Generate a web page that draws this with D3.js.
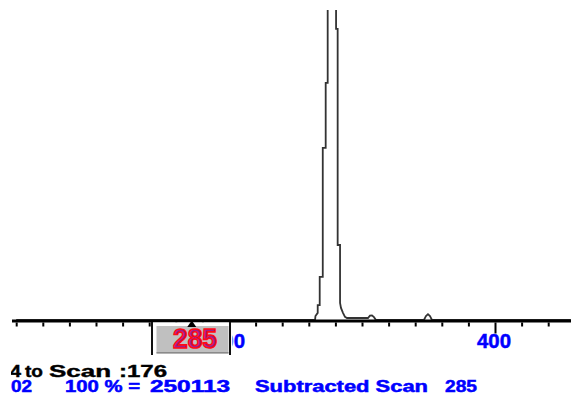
<!DOCTYPE html>
<html>
<head>
<meta charset="utf-8">
<script src="https://cdn.jsdelivr.net/npm/d3@7"></script>
<style>
  html, body { margin: 0; padding: 0; background: #fff; }
  svg { display: block; }
  text { font-family: "Liberation Sans", Arial, sans-serif; font-weight: bold; }
</style>
</head>
<body>
<svg id="chart" width="571" height="398"></svg>
<script>
// ---- data (x in axis units, intensity in % of display range; peak runs off-scale) ----
const massValues = [40, 262.4, 264.7, 265.0, 266.7, 266.7, 268.2, 268.2, 270.5, 270.5, 272.7, 272.7, 274.2, 274.2,
                    280.5, 280.5, 281.7, 281.7, 283.5, 283.5, 284.2, 285.7, 287.2, 288.7, 302.3,
                    304.5, 306.0, 307.5, 309.0, 310.5, 346.6, 348.1, 349.6, 351.1, 352.6, 457];
const intensityValues = [0, 0, 0, 1.3, 2.3, 4.8, 4.8, 13.9, 13.9, 55.5, 55.5, 76.5, 76.5, 240,
                         240, 93.9, 93.9, 24.2, 24.2, 5.5, 3.9, 2.3, 1.0, 0.65, 0.65,
                         0.65, 1.4, 1.5, 0.9, 0, 0, 1.3, 1.9, 1.3, 0, 0];
const minorTicks = [40, 60, 80, 100, 120, 140, 160, 180, 220, 240, 260, 280, 300, 320, 340, 360, 380, 420, 440];
const majorTicks = [200, 400];
const tickLabels = ["200", "400"];
const scanMarker = 172;
const scanLabel = "285";
const line1Parts = ["4", "to", "Scan", ":176"];
const line2Parts = ["02", "100 % =", "250113", "Subtracted Scan", "285"];

const svg = d3.select("#chart");
svg.append("rect").attr("width", 571).attr("height", 398).attr("fill", "#fff");

const x = d3.scaleLinear().domain([200, 400]).range([229, 495]);
const y = d3.scaleLinear().domain([0, 100]).range([320, 10]);

const defs = svg.append("defs");
defs.append("clipPath").attr("id", "plotClip")
  .append("rect").attr("x", 12).attr("y", 10).attr("width", 559).attr("height", 312);
defs.append("clipPath").attr("id", "textClip")
  .append("rect").attr("x", 11).attr("y", 355).attr("width", 560).attr("height", 43);
defs.append("clipPath").attr("id", "labelClip")
  .append("rect").attr("x", 232.5).attr("y", 318).attr("width", 340).attr("height", 37);

// spectrum trace
const pts = massValues.map((m, i) => [m, intensityValues[i]]);
svg.append("g").attr("clip-path", "url(#plotClip)")
  .append("path")
  .datum(pts)
  .attr("d", d3.line().x(d => x(d[0])).y(d => y(d[1])))
  .attr("fill", "none")
  .attr("stroke", "#333")
  .attr("stroke-width", 1.8)
  .attr("stroke-linejoin", "miter");

// axis line
svg.append("rect").attr("x", 12).attr("y", 319.5).attr("width", 559).attr("height", 3).attr("fill", "#000");

// minor ticks
const gMinor = svg.append("g").attr("transform", "translate(0,322.5)")
  .call(d3.axisBottom(x).tickValues(minorTicks).tickSize(4).tickFormat(""));
gMinor.select(".domain").remove();
gMinor.selectAll(".tick line").attr("stroke", "#000").attr("stroke-width", 2);

// major ticks + labels (the scan box hides most of the first label)
const gMajor = svg.append("g").attr("clip-path", "url(#labelClip)")
  .append("g").attr("transform", "translate(0,322.5)")
  .call(d3.axisBottom(x).tickValues(majorTicks).tickSize(11).tickFormat((d, i) => tickLabels[i]));
gMajor.select(".domain").remove();
gMajor.selectAll(".tick line").attr("stroke", "#000").attr("stroke-width", 2);
gMajor.selectAll(".tick text")
  .attr("y", 25.5).attr("dy", 0).attr("dx", -1.5)
  .attr("fill", "#0000ff")
  .attr("stroke", "#0000ff").attr("stroke-width", 0.5)
  .attr("font-size", 20)
  .attr("font-family", "Liberation Sans, Arial, sans-serif")
  .attr("font-weight", "bold")
  .attr("textLength", 34).attr("lengthAdjust", "spacingAndGlyphs");

// scan box
const bx = x(scanMarker);
const box = svg.append("g");
box.append("rect").attr("x", 151).attr("y", 322.5).attr("width", 80).attr("height", 32).attr("fill", "#fff");
box.append("rect").attr("x", 156.5).attr("y", 326).attr("width", 72).attr("height", 27.5).attr("fill", "#c0c0c0");
box.append("rect").attr("x", 156.5).attr("y", 352).attr("width", 72).attr("height", 1.5).attr("fill", "#8a8a8a");
box.append("rect").attr("x", 151).attr("y", 322).attr("width", 2).attr("height", 33).attr("fill", "#111");
box.append("rect").attr("x", 229).attr("y", 322).attr("width", 2).attr("height", 33).attr("fill", "#111");
box.append("path")
  .attr("d", `M${bx},320.5 L${bx + 4.5},327 L${bx - 4.5},327 Z`)
  .attr("fill", "#000");
box.append("text")
  .attr("x", 195).attr("y", 348).attr("text-anchor", "middle")
  .attr("font-size", 28)
  .attr("fill", "#a01c8c").attr("stroke", "#ff0a14").attr("stroke-width", 1.6)
  .attr("textLength", 44).attr("lengthAdjust", "spacingAndGlyphs")
  .text(scanLabel);

// status lines
const tg = svg.append("g").attr("clip-path", "url(#textClip)");
const line1Pos = [[10, 11], [25, 18], [49, 62], [119, 48]];
line1Parts.forEach((t, i) => {
  tg.append("text").attr("x", line1Pos[i][0]).attr("y", 376.5)
    .attr("font-size", 16.5).attr("fill", "#000")
    .attr("stroke", "#000").attr("stroke-width", 0.4)
    .attr("textLength", line1Pos[i][1]).attr("lengthAdjust", "spacingAndGlyphs")
    .text(t);
});
const line2Pos = [[11, 21], [65, 75], [150, 80], [255, 173], [445, 32]];
line2Parts.forEach((t, i) => {
  tg.append("text").attr("x", line2Pos[i][0]).attr("y", 392.3)
    .attr("font-size", 16).attr("fill", "#0000ff")
    .attr("stroke", "#0000ff").attr("stroke-width", 0.5)
    .attr("textLength", line2Pos[i][1]).attr("lengthAdjust", "spacingAndGlyphs")
    .text(t);
});
</script>
</body>
</html>
